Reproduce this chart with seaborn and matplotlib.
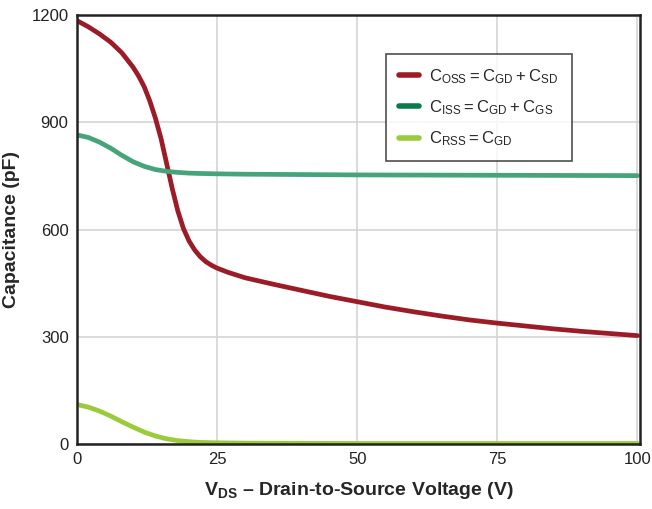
import seaborn as sns
import pandas as pd
import matplotlib.pyplot as plt

# values
coss_v = [0, 2, 4, 6, 8, 10, 11, 12, 13, 14, 15, 16, 17, 18, 19, 20, 21, 22, 23, 24, 25, 27, 30, 35, 40, 45, 50, 55, 60, 65, 70, 75, 80, 85, 90, 95, 100]
coss = [1185, 1168, 1148, 1125, 1095, 1055, 1030, 1000, 960, 912, 855, 785, 715, 652, 603, 568, 543, 524, 510, 500, 492, 480, 465, 447, 430, 413, 398, 383, 370, 358, 347, 338, 330, 322, 315, 309, 303]

ciss_v = [0, 2, 4, 6, 8, 10, 12, 14, 16, 18, 20, 22, 25, 30, 40, 50, 75, 100]
ciss = [865, 858, 845, 828, 808, 790, 777, 768, 763, 760, 758, 757, 756, 755, 754, 753, 752, 751]

crss_v = [0, 2, 4, 6, 8, 10, 12, 14, 16, 18, 20, 22, 25, 30, 50, 100]
crss = [110, 103, 92, 78, 62, 47, 33, 22, 14, 9, 6, 4, 3, 2, 1, 1]

labels = [r'$\mathregular{C_{OSS} = C_{GD} + C_{SD}}$',
          r'$\mathregular{C_{ISS} = C_{GD} + C_{GS}}$',
          r'$\mathregular{C_{RSS} = C_{GD}}$']
line_colors = ['#9b1c27', '#45a47a', '#9bcb3b']
legend_colors = ['#9b1c27', '#0b7a4a', '#9bcb3b']

df = pd.concat([
    pd.DataFrame({'v': coss_v, 'c': coss, 's': labels[0]}),
    pd.DataFrame({'v': ciss_v, 'c': ciss, 's': labels[1]}),
    pd.DataFrame({'v': crss_v, 'c': crss, 's': labels[2]}),
])

sns.set_style('white')
plt.rcParams['font.family'] = ['Liberation Sans', 'DejaVu Sans']
plt.rcParams['mathtext.fontset'] = 'custom'
plt.rcParams['mathtext.rm'] = 'Liberation Sans'

fig, ax = plt.subplots(figsize=(6.52, 5.09), dpi=100)
sns.lineplot(data=df, x='v', y='c', hue='s', palette=dict(zip(labels, line_colors)),
             linewidth=3.4, ax=ax, legend=False, sort=False)
for ln in ax.lines:
    ln.set_solid_joinstyle('round')

ax.set_xlim(0, 100.5)
ax.set_ylim(0, 1200)
ax.set_xticks([0, 25, 50, 75, 100])
ax.set_yticks([0, 300, 600, 900, 1200])
ax.grid(True, color='#d4d4d4', linewidth=1.2)
ax.set_axisbelow(True)
for sp in ax.spines.values():
    sp.set_color('#222222')
    sp.set_linewidth(1.8)
ax.tick_params(length=0, labelsize=12, pad=6, colors='#222222')

ax.set_xlabel(r'$\mathregular{V_{DS}}$ – Drain-to-Source Voltage (V)', fontsize=14,
              fontweight='bold', labelpad=9)
ax.set_ylabel('Capacitance (pF)', fontsize=14, fontweight='bold', labelpad=8)

handles = [plt.Line2D([], [], color=c, linewidth=4) for c in legend_colors]
leg = ax.legend(handles, labels, loc='upper right', bbox_to_anchor=(0.893, 0.93),
                fontsize=12, frameon=True, fancybox=False, handlelength=1.2,
                handletextpad=0.6, borderpad=0.8, labelspacing=0.75)
leg.get_frame().set_edgecolor('#222222')
leg.get_frame().set_linewidth(1.2)

fig.subplots_adjust(left=0.118, right=0.982, top=0.97, bottom=0.128)
plt.savefig('out.png', dpi=100)
